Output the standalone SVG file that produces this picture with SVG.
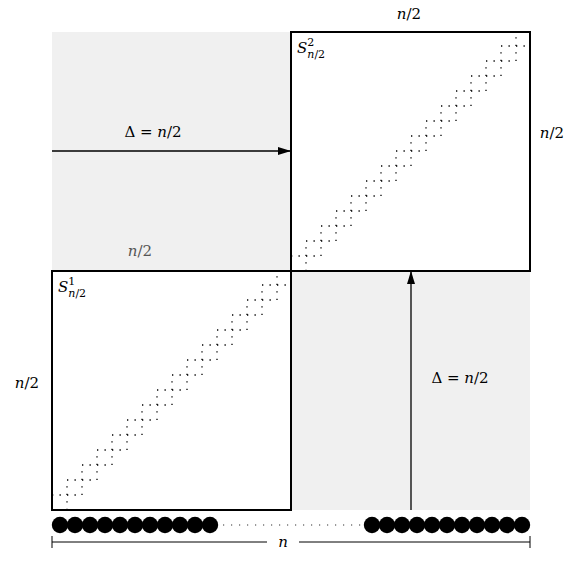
<svg xmlns="http://www.w3.org/2000/svg" width="574" height="563" viewBox="0 0 574 563">
<style>
.box{fill:#fff;stroke:#000;stroke-width:2}
.stair{fill:none;stroke:#000;stroke-width:1.3;stroke-dasharray:1.3 6.2}
.arrow{fill:none;stroke:#000;stroke-width:1.3}
.t{font-family:'DejaVu Serif','Liberation Serif',serif;font-size:15px;fill:#000}
.i{font-style:italic}
.g{fill:#555}
.dot{fill:#000}
</style>
<defs>
<marker id="ah" markerWidth="14" markerHeight="10" refX="13" refY="4" orient="auto" markerUnits="userSpaceOnUse">
<path d="M0,0 L13,4 L0,8 Z" fill="#000"/>
</marker>
<path id="stairA" d="M67,510 V480 H97 V450 H127 V420 H157 V390 H187 V360 H217 V330 H247 V300 H277 V271"/>
<path id="stairB" d="M52,495 H82 V465 H112 V435 H142 V405 H172 V375 H202 V345 H232 V315 H262 V285 H291"/>
</defs>
<rect x="52" y="32" width="478" height="478" fill="#f0f0f0"/>
<g id="box1">
<rect class="box" x="52" y="271" width="239" height="239"/>
<use href="#stairA" class="stair"/>
<use href="#stairB" class="stair"/>
<text class="t" font-family="'DejaVu Serif','Liberation Serif',serif" x="58" y="292" font-size="16"><tspan class="i">S</tspan><tspan font-size="11" dy="-7">1</tspan><tspan font-size="11" class="i" dx="-7" dy="12">n</tspan><tspan font-size="11">/2</tspan></text>
</g>
<g id="box2">
<rect class="box" x="291" y="32" width="239" height="239"/>
<g transform="translate(239,-239)">
<use href="#stairA" class="stair"/>
<use href="#stairB" class="stair"/>
</g>
<text class="t" font-family="'DejaVu Serif','Liberation Serif',serif" x="297" y="53" font-size="16"><tspan class="i">S</tspan><tspan font-size="11" dy="-7">2</tspan><tspan font-size="11" class="i" dx="-7" dy="12">n</tspan><tspan font-size="11">/2</tspan></text>
</g>
<g id="connectors">
<path class="arrow" d="M52,151 H291" marker-end="url(#ah)"/>
<path class="arrow" d="M411,510 V271" marker-end="url(#ah)"/>
</g>
<g id="labels" font-family="'DejaVu Serif','Liberation Serif',serif">
<text class="t" x="153" y="137" text-anchor="middle">Δ = <tspan class="i">n</tspan>/2</text>
<text class="t" x="460" y="383" text-anchor="middle">Δ = <tspan class="i">n</tspan>/2</text>
<text class="t" x="409" y="19" text-anchor="middle"><tspan class="i">n</tspan>/2</text>
<text class="t" x="552" y="138" text-anchor="middle"><tspan class="i">n</tspan>/2</text>
<text class="t" x="27" y="388" text-anchor="middle"><tspan class="i">n</tspan>/2</text>
<text class="t g" x="140" y="256" text-anchor="middle"><tspan class="i">n</tspan>/2</text>
</g>
<g id="elements">
<circle class="dot" cx="60" cy="525" r="8.2"/>
<circle class="dot" cx="75" cy="525" r="8.2"/>
<circle class="dot" cx="90" cy="525" r="8.2"/>
<circle class="dot" cx="105" cy="525" r="8.2"/>
<circle class="dot" cx="120" cy="525" r="8.2"/>
<circle class="dot" cx="135" cy="525" r="8.2"/>
<circle class="dot" cx="150" cy="525" r="8.2"/>
<circle class="dot" cx="165" cy="525" r="8.2"/>
<circle class="dot" cx="180" cy="525" r="8.2"/>
<circle class="dot" cx="195" cy="525" r="8.2"/>
<circle class="dot" cx="210" cy="525" r="8.2"/>
<path d="M223,525 H362" fill="none" stroke="#333" stroke-width="1.2" stroke-dasharray="1.2 6.8"/>
<circle class="dot" cx="372" cy="525" r="8.2"/>
<circle class="dot" cx="387" cy="525" r="8.2"/>
<circle class="dot" cx="402" cy="525" r="8.2"/>
<circle class="dot" cx="417" cy="525" r="8.2"/>
<circle class="dot" cx="432" cy="525" r="8.2"/>
<circle class="dot" cx="447" cy="525" r="8.2"/>
<circle class="dot" cx="462" cy="525" r="8.2"/>
<circle class="dot" cx="477" cy="525" r="8.2"/>
<circle class="dot" cx="492" cy="525" r="8.2"/>
<circle class="dot" cx="507" cy="525" r="8.2"/>
<circle class="dot" cx="522" cy="525" r="8.2"/>
</g>
<g id="bracket">
<path d="M52,542 H267 M299,542 H530 M52,536 V548 M530,536 V548" fill="none" stroke="#000" stroke-width="1"/>
<text class="t i" x="283" y="547" text-anchor="middle">n</text>
</g>
</svg>
